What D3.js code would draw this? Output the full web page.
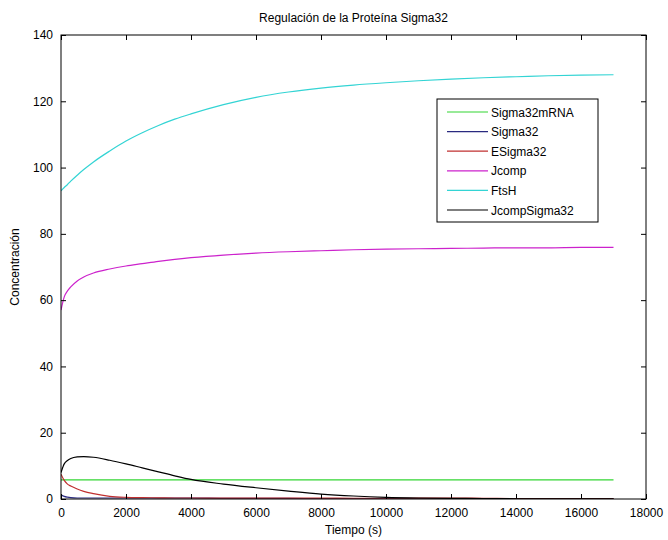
<!DOCTYPE html>
<html>
<head>
<meta charset="utf-8">
<script src="https://cdn.jsdelivr.net/npm/d3@7"></script>
<style>
  html, body { margin: 0; padding: 0; background: #fff; }
  svg { display: block; }
  text { font-family: "Liberation Sans", Arial, Helvetica, sans-serif; fill: #000; }
</style>
</head>
<body>
<svg id="chart" width="668" height="540"></svg>
<script>
// Simulation time grid (s)
const tiempo = [0, 100, 200, 300, 500, 700, 1000, 1500, 2000, 2500, 3000, 3500, 4000,
  5000, 6000, 7000, 8000, 9000, 10000, 11000, 12000, 13000, 14000, 15000, 16000, 17000];

// Concentrations for each species at those times
const sigma32mRNA = [5.8, 5.8, 5.8, 5.8, 5.8, 5.8, 5.8, 5.8, 5.8, 5.8, 5.8, 5.8, 5.8,
  5.8, 5.8, 5.8, 5.8, 5.8, 5.8, 5.8, 5.8, 5.8, 5.8, 5.8, 5.8, 5.8];
const sigma32 = [1.3, 0.8, 0.55, 0.4, 0.3, 0.3, 0.3, 0.3, 0.3, 0.3, 0.3, 0.3, 0.3,
  0.2, 0.18, 0.16, 0.15, 0.14, 0.13, 0.12, 0.12, 0.11, 0.1, 0.1, 0.1, 0.1];
const eSigma32 = [7.5, 5.6, 4.5, 3.9, 3.0, 2.3, 1.6, 0.8, 0.5, 0.4, 0.35, 0.3, 0.3,
  0.28, 0.26, 0.25, 0.24, 0.23, 0.22, 0.25, 0.3, 0.2, 0.12, 0.1, 0.1, 0.1];
const jcomp = [57.0, 61.0, 62.8, 64.0, 65.8, 67.0, 68.2, 69.4, 70.3, 71.0, 71.7, 72.3, 72.8,
  73.6, 74.2, 74.6, 74.9, 75.2, 75.4, 75.5, 75.6, 75.7, 75.8, 75.8, 75.9, 75.9];
const ftsH = [93.0, 94.0, 94.9, 95.9, 97.7, 99.4, 101.7, 105.0, 108.0, 110.5, 112.7, 114.6, 116.2,
  119.0, 121.2, 122.8, 124.0, 124.9, 125.6, 126.2, 126.7, 127.1, 127.4, 127.7, 127.9, 128.0];
const jcompSigma32 = [8.0, 10.6, 11.6, 12.2, 12.7, 12.8, 12.6, 11.7, 10.6, 9.4, 8.2, 7.0, 5.9,
  4.5, 3.4, 2.4, 1.5, 0.9, 0.5, 0.3, 0.2, 0.12, 0.08, 0.05, 0.04, 0.03];

const seriesNames = ["Sigma32mRNA", "Sigma32", "ESigma32", "Jcomp", "FtsH", "JcompSigma32"];
const seriesValues = [sigma32mRNA, sigma32, eSigma32, jcomp, ftsH, jcompSigma32];
const seriesColors = ["#33d633", "#2a2a80", "#c03030", "#cc22cc", "#33d4d4", "#000000"];

const xTicks = [0, 2000, 4000, 6000, 8000, 10000, 12000, 14000, 16000, 18000];
const yTicks = [0, 20, 40, 60, 80, 100, 120, 140];

const titulo = "Regulación de la Proteína Sigma32";
const etiquetaX = "Tiempo (s)";
const etiquetaY = "Concentración";

const svg = d3.select("#chart");
const mLeft = 61, mRight = 646, mTop = 35, mBottom = 499;

const x = d3.scaleLinear().domain([0, 18000]).range([mLeft, mRight]);
const y = d3.scaleLinear().domain([0, 140]).range([mBottom, mTop]);

// Data lines, clipped to the axes box
svg.append("clipPath").attr("id", "plotclip")
  .append("rect").attr("x", mLeft).attr("y", mTop).attr("width", mRight - mLeft).attr("height", mBottom - mTop);

const line = d3.line()
  .x(d => x(d[0]))
  .y(d => y(d[1]))
  .curve(d3.curveMonotoneX);

const plot = svg.append("g").attr("clip-path", "url(#plotclip)");
seriesValues.forEach((vals, i) => {
  plot.append("path")
    .datum(tiempo.map((t, k) => [t, vals[k]]))
    .attr("fill", "none")
    .attr("stroke", seriesColors[i])
    .attr("stroke-width", 1.2)
    .attr("d", line);
});

// Axes with inward ticks on all four sides
const tickLen = 5;
const axisStyle = g => {
  g.select(".domain").remove();
  g.selectAll(".tick line").attr("stroke", "#000");
  g.selectAll(".tick text").attr("font-size", 12).attr("font-family", "Liberation Sans, Arial, sans-serif");
};

svg.append("g").attr("transform", `translate(0,${mBottom})`)
  .call(d3.axisBottom(x).tickValues(xTicks).tickFormat(d3.format("d")).tickSizeInner(-tickLen).tickSizeOuter(0).tickPadding(9))
  .call(axisStyle);
svg.append("g").attr("transform", `translate(0,${mTop})`)
  .call(d3.axisTop(x).tickValues(xTicks).tickFormat("").tickSizeInner(-tickLen).tickSizeOuter(0))
  .call(axisStyle);
svg.append("g").attr("transform", `translate(${mLeft},0)`)
  .call(d3.axisLeft(y).tickValues(yTicks).tickFormat(d3.format("d")).tickSizeInner(-tickLen).tickSizeOuter(0).tickPadding(8))
  .call(axisStyle);
svg.append("g").attr("transform", `translate(${mRight},0)`)
  .call(d3.axisRight(y).tickValues(yTicks).tickFormat("").tickSizeInner(-tickLen).tickSizeOuter(0))
  .call(axisStyle);

svg.append("rect")
  .attr("x", mLeft).attr("y", mTop).attr("width", mRight - mLeft).attr("height", mBottom - mTop)
  .attr("fill", "none").attr("stroke", "#000").attr("stroke-width", 1);

// Titles
svg.append("text").attr("x", (mLeft + mRight) / 2).attr("y", 22)
  .attr("text-anchor", "middle").attr("font-size", 12).text(titulo);
svg.append("text").attr("x", (mLeft + mRight) / 2).attr("y", 534)
  .attr("text-anchor", "middle").attr("font-size", 12).text(etiquetaX);
svg.append("text")
  .attr("transform", `translate(19,${(mTop + mBottom) / 2}) rotate(-90)`)
  .attr("text-anchor", "middle").attr("font-size", 12).text(etiquetaY);

// Legend
const lg = svg.append("g").attr("transform", "translate(437,99)");
lg.append("rect").attr("width", 161).attr("height", 123)
  .attr("fill", "#fff").attr("stroke", "#000").attr("stroke-width", 1);
seriesNames.forEach((name, i) => {
  const yy = 13 + i * 19.6;
  lg.append("line").attr("x1", 10).attr("x2", 51).attr("y1", yy).attr("y2", yy)
    .attr("stroke", seriesColors[i]).attr("stroke-width", 1.2);
  lg.append("text").attr("x", 54).attr("y", yy + 4.5).attr("font-size", 12).text(name);
});
</script>
</body>
</html>
